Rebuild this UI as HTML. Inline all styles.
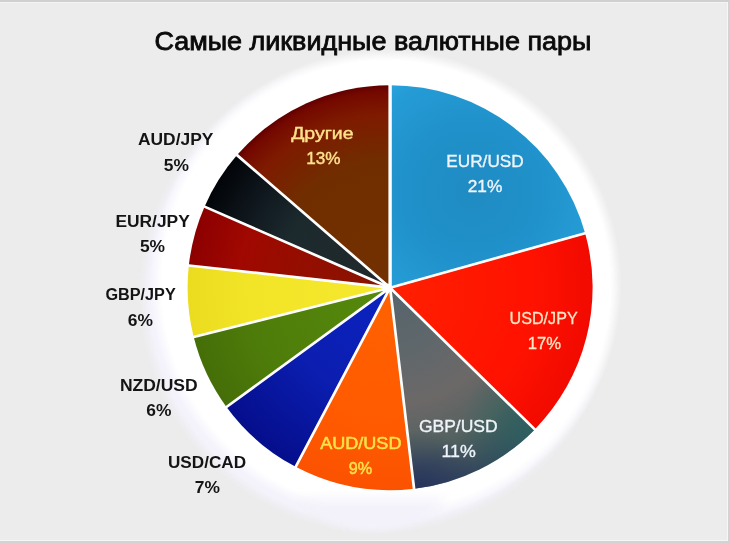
<!DOCTYPE html>
<html><head><meta charset="utf-8"><title>Самые ликвидные валютные пары</title>
<style>
html,body{margin:0;padding:0;}
body{width:730px;height:543px;overflow:hidden;background:#ececec;font-family:"Liberation Sans",sans-serif;position:relative;}
#frame{position:absolute;left:0;top:0;width:730px;height:543px;box-sizing:border-box;
 border-top:2px solid #d0d0d0;border-right:2px solid #d3d3d3;border-bottom:2px solid #d3d3d3;box-shadow:inset -1px -1px 0 #f6f6f6, inset 0 1px 0 #f4f4f4;}
svg{position:absolute;left:0;top:0;filter:blur(0.45px);}
text{font-family:"Liberation Sans",sans-serif;text-anchor:middle;}
.title{font-size:25px;fill:#0a0a0a;stroke:#0a0a0a;stroke-width:0.8px;}
.k{font-size:17.4px;font-weight:bold;fill:#141414;}
.w{font-size:17px;fill:#eef4fa;stroke:#eef4fa;stroke-width:0.35px;}
.c{font-size:17px;fill:#ffe6c4;stroke:#ffe6c4;stroke-width:0.3px;}
.y{font-size:17px;fill:#ffe24a;stroke:#ffe24a;stroke-width:0.5px;}
.o{font-size:17px;fill:#ffe38c;stroke:#ffe38c;stroke-width:0.4px;}
</style></head>
<body>
<div id="frame"></div>
<svg width="730" height="543" viewBox="0 0 730 543">
<defs>
<radialGradient id="g-usdjpy" gradientUnits="userSpaceOnUse" cx="390.1" cy="287.7" r="202.5"><stop offset="0" stop-color="#ff2000"/><stop offset="0.7" stop-color="#ff1200"/><stop offset="1" stop-color="#f20a00"/></radialGradient>
<radialGradient id="g-audusd" gradientUnits="userSpaceOnUse" cx="390.1" cy="287.7" r="202.5"><stop offset="0" stop-color="#ff6200"/><stop offset="0.7" stop-color="#ff5a00"/><stop offset="1" stop-color="#fb5200"/></radialGradient>
<radialGradient id="g-usdcad" gradientUnits="userSpaceOnUse" cx="390.1" cy="287.7" r="202.5"><stop offset="0" stop-color="#0a22c0"/><stop offset="0.55" stop-color="#0b1eb0"/><stop offset="1" stop-color="#050e8c"/></radialGradient>
<radialGradient id="g-nzdusd" gradientUnits="userSpaceOnUse" cx="390.1" cy="287.7" r="202.5"><stop offset="0" stop-color="#568a0c"/><stop offset="0.7" stop-color="#4e7c0a"/><stop offset="1" stop-color="#456e08"/></radialGradient>
<radialGradient id="g-gbpjpy" gradientUnits="userSpaceOnUse" cx="390.1" cy="287.7" r="202.5"><stop offset="0" stop-color="#f6e82e"/><stop offset="0.7" stop-color="#f2e426"/><stop offset="1" stop-color="#ebdc20"/></radialGradient>
<radialGradient id="g-eurjpy" gradientUnits="userSpaceOnUse" cx="390.1" cy="287.7" r="202.5"><stop offset="0" stop-color="#861400"/><stop offset="0.45" stop-color="#940e00"/><stop offset="0.75" stop-color="#a00800"/><stop offset="1" stop-color="#8c0000"/></radialGradient>
<radialGradient id="g-audjpy" gradientUnits="userSpaceOnUse" cx="390.1" cy="287.7" r="202.5"><stop offset="0" stop-color="#22282a"/><stop offset="0.55" stop-color="#1c2a2e"/><stop offset="0.8" stop-color="#0e161c"/><stop offset="1" stop-color="#020408"/></radialGradient>
<radialGradient id="g-other" gradientUnits="userSpaceOnUse" cx="390.1" cy="287.7" r="202.5"><stop offset="0" stop-color="#733000"/><stop offset="0.62" stop-color="#702e00"/><stop offset="0.86" stop-color="#7e1a00"/><stop offset="0.97" stop-color="#740800"/><stop offset="1" stop-color="#600000"/></radialGradient>
<radialGradient id="g-eurusd" gradientUnits="userSpaceOnUse" cx="472" cy="192" r="150"><stop offset="0" stop-color="#208bc3"/><stop offset="0.45" stop-color="#2091ca"/><stop offset="0.8" stop-color="#259cd6"/><stop offset="1" stop-color="#2eaae6"/></radialGradient>
<radialGradient id="g-gbpusd" gradientUnits="userSpaceOnUse" cx="390.1" cy="287.7" r="202.5"><stop offset="0" stop-color="#56646c"/><stop offset="0.3" stop-color="#5e676b"/><stop offset="0.58" stop-color="#6c6868"/><stop offset="0.8" stop-color="#54625f"/><stop offset="1" stop-color="#33475c"/></radialGradient>
<radialGradient id="g-teal" gradientUnits="userSpaceOnUse" cx="536" cy="430" r="75"><stop offset="0" stop-color="#2c6660" stop-opacity="0.85"/><stop offset="1" stop-color="#2c6660" stop-opacity="0"/></radialGradient>
<radialGradient id="g-navy" gradientUnits="userSpaceOnUse" cx="418" cy="492" r="62"><stop offset="0" stop-color="#24305c" stop-opacity="0.9"/><stop offset="1" stop-color="#24305c" stop-opacity="0"/></radialGradient>
<radialGradient id="glow" gradientUnits="userSpaceOnUse" cx="386" cy="285" r="236">
<stop offset="0" stop-color="#ffffff"/><stop offset="0.95" stop-color="#ffffff"/><stop offset="1" stop-color="#ffffff" stop-opacity="0"/>
</radialGradient>
<linearGradient id="blin" gradientUnits="userSpaceOnUse" x1="0" y1="490" x2="0" y2="508"><stop offset="0" stop-color="#000"/><stop offset="1" stop-color="#fff"/></linearGradient>
<mask id="mb" maskUnits="userSpaceOnUse" x="250" y="430" width="300" height="113"><rect x="250" y="430" width="300" height="113" fill="url(#blin)"/></mask>
<radialGradient id="bulge" cx="0.5" cy="0.5" r="0.5">
<stop offset="0" stop-color="#f3f2fb"/><stop offset="0.78" stop-color="#f3f2fb"/><stop offset="1" stop-color="#efeef4" stop-opacity="0"/>
</radialGradient>
<radialGradient id="halo" gradientUnits="userSpaceOnUse" cx="378" cy="294" r="241">
<stop offset="0" stop-color="#f4f3fc"/><stop offset="0.945" stop-color="#f4f3fc"/><stop offset="1" stop-color="#efeef4" stop-opacity="0"/>
</radialGradient>
</defs>
<ellipse cx="373" cy="490" rx="80" ry="45" fill="url(#bulge)"/>
<circle cx="378" cy="294" r="241" fill="url(#halo)"/>
<circle cx="386" cy="285" r="236" fill="url(#glow)"/>
<ellipse cx="373" cy="490" rx="80" ry="45" fill="url(#bulge)" mask="url(#mb)"/>
<path d="M390.1,287.7 L390.10,85.20 A202.5,202.5 0 0 1 585.14,233.24 Z" fill="url(#g-eurusd)"/>
<path d="M390.1,287.7 L585.14,233.24 A202.5,202.5 0 0 1 534.78,429.38 Z" fill="url(#g-usdjpy)"/>
<path d="M390.1,287.7 L534.78,429.38 A202.5,202.5 0 0 1 414.08,488.78 Z" fill="url(#g-gbpusd)"/>
<path d="M390.1,287.7 L534.78,429.38 A202.5,202.5 0 0 1 414.08,488.78 Z" fill="url(#g-teal)"/><path d="M390.1,287.7 L534.78,429.38 A202.5,202.5 0 0 1 414.08,488.78 Z" fill="url(#g-navy)"/>
<path d="M390.1,287.7 L414.08,488.78 A202.5,202.5 0 0 1 295.66,466.83 Z" fill="url(#g-audusd)"/>
<path d="M390.1,287.7 L295.66,466.83 A202.5,202.5 0 0 1 226.48,407.01 Z" fill="url(#g-usdcad)"/>
<path d="M390.1,287.7 L226.48,407.01 A202.5,202.5 0 0 1 193.70,337.03 Z" fill="url(#g-nzdusd)"/>
<path d="M390.1,287.7 L193.70,337.03 A202.5,202.5 0 0 1 188.82,265.48 Z" fill="url(#g-gbpjpy)"/>
<path d="M390.1,287.7 L188.82,265.48 A202.5,202.5 0 0 1 204.54,206.63 Z" fill="url(#g-eurjpy)"/>
<path d="M390.1,287.7 L204.54,206.63 A202.5,202.5 0 0 1 237.04,155.11 Z" fill="url(#g-audjpy)"/>
<path d="M390.1,287.7 L237.04,155.11 A202.5,202.5 0 0 1 390.10,85.20 Z" fill="url(#g-other)"/>
<g stroke="#ffffff" stroke-linecap="round">
<line x1="390.1" y1="287.7" x2="390.10" y2="85.20" stroke-width="3.4"/>
<line x1="390.1" y1="287.7" x2="585.14" y2="233.24" stroke-width="2.7"/>
<line x1="390.1" y1="287.7" x2="534.78" y2="429.38" stroke-width="2.7"/>
<line x1="390.1" y1="287.7" x2="414.08" y2="488.78" stroke-width="2.7"/>
<line x1="390.1" y1="287.7" x2="295.66" y2="466.83" stroke-width="2.7"/>
<line x1="390.1" y1="287.7" x2="226.48" y2="407.01" stroke-width="2.7"/>
<line x1="390.1" y1="287.7" x2="193.70" y2="337.03" stroke-width="2.7"/>
<line x1="390.1" y1="287.7" x2="188.82" y2="265.48" stroke-width="2.7"/>
<line x1="390.1" y1="287.7" x2="204.54" y2="206.63" stroke-width="2.7"/>
<line x1="390.1" y1="287.7" x2="237.04" y2="155.11" stroke-width="2.7"/>
</g>
<circle cx="386.8" cy="288" r="4.6" fill="#fff"/>
<text x="372.9" y="49.6" class="title" textLength="437" lengthAdjust="spacingAndGlyphs">Самые ликвидные валютные пары</text>
<text x="485" y="167.1" class="w" textLength="77.4" lengthAdjust="spacingAndGlyphs">EUR/USD</text>
<text x="485" y="192" class="w" textLength="34.6" lengthAdjust="spacingAndGlyphs">21%</text>
<text x="543.6" y="323.6" class="c" textLength="68.1" lengthAdjust="spacingAndGlyphs">USD/JPY</text>
<text x="544.4" y="348.5" class="c" textLength="33.4" lengthAdjust="spacingAndGlyphs">17%</text>
<text x="458.3" y="431.7" class="w" textLength="78.8" lengthAdjust="spacingAndGlyphs">GBP/USD</text>
<text x="458.6" y="457" class="w" textLength="34.3" lengthAdjust="spacingAndGlyphs">11%</text>
<text x="360.8" y="448.9" class="y" textLength="81.3" lengthAdjust="spacingAndGlyphs">AUD/USD</text>
<text x="360.4" y="474.2" class="y" textLength="23.4" lengthAdjust="spacingAndGlyphs">9%</text>
<text x="322.4" y="138.6" class="o" textLength="62.5" lengthAdjust="spacingAndGlyphs">Другие</text>
<text x="323.4" y="163.8" class="o" textLength="34.3" lengthAdjust="spacingAndGlyphs">13%</text>
<text x="175.7" y="145.3" class="k">AUD/JPY</text>
<text x="176.3" y="170.6" class="k">5%</text>
<text x="152.6" y="226.9" class="k">EUR/JPY</text>
<text x="152.5" y="251.9" class="k">5%</text>
<text x="140.6" y="300.2" class="k" textLength="70.3" lengthAdjust="spacingAndGlyphs">GBP/JPY</text>
<text x="140.4" y="326.2" class="k">6%</text>
<text x="158.8" y="391.3" class="k" textLength="77.8" lengthAdjust="spacingAndGlyphs">NZD/USD</text>
<text x="158.8" y="416.3" class="k">6%</text>
<text x="207" y="467.8" class="k" textLength="78.1" lengthAdjust="spacingAndGlyphs">USD/CAD</text>
<text x="207.4" y="493.1" class="k">7%</text>
</svg>
</body></html>
